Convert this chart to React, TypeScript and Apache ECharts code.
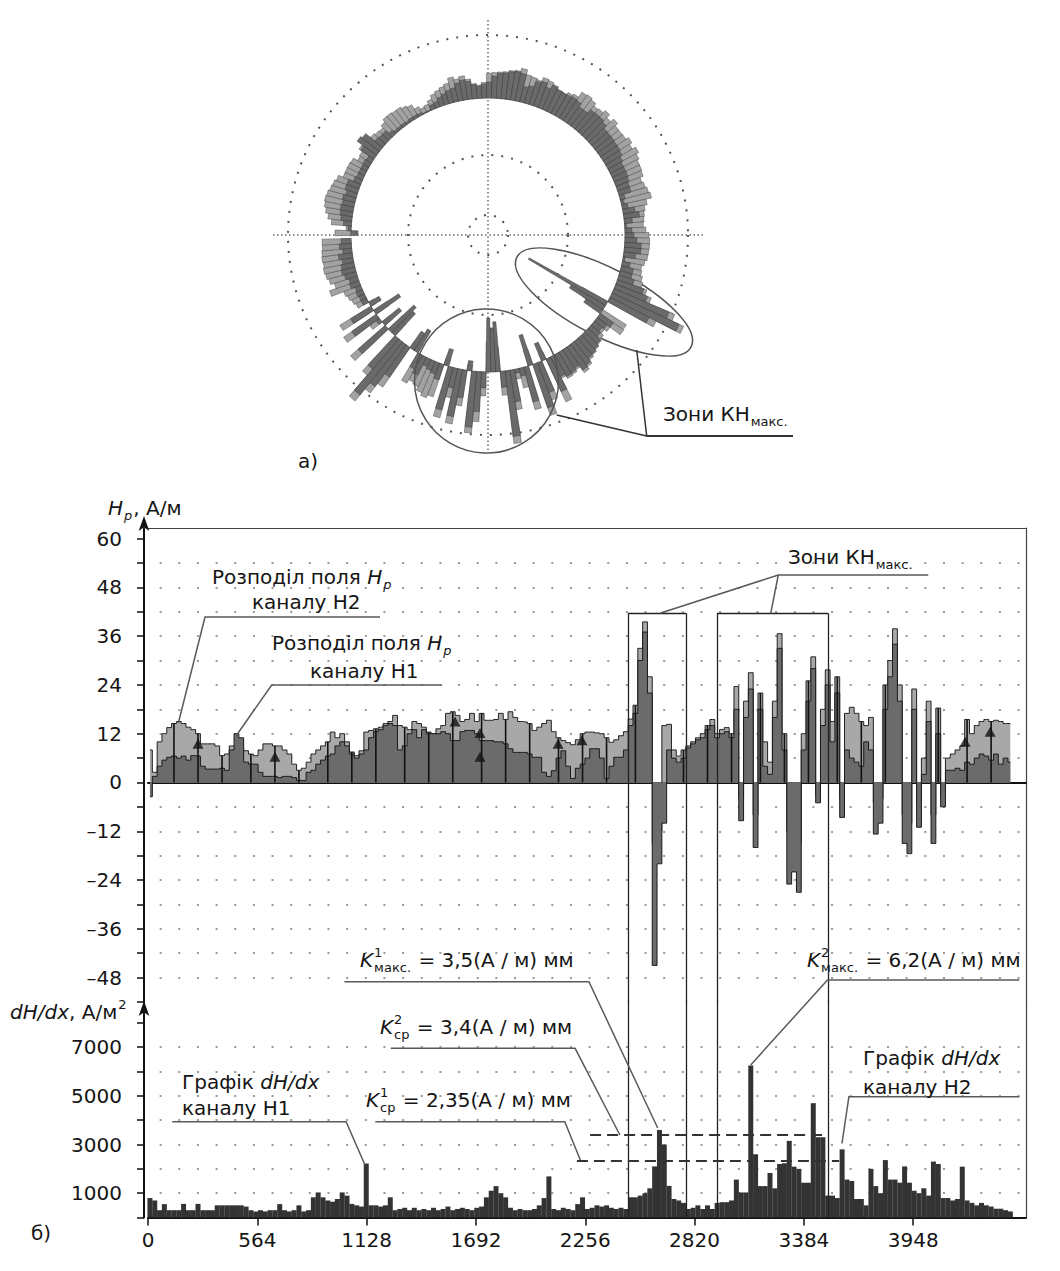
import React, { useEffect, useRef } from 'react';
import * as echarts from 'echarts';

// ---- data ----
const X_START = 10;
const STEP = 24.8;
const CIRCLE_LENGTH = 4480; // scan length mapped onto the full circle in (a)

const H2_CHANNEL = [
  8, 2.5, 10, 12, 13.5, 14.5, 15, 14.5, 13.6, 13,
  12, 9.5, 9.5, 9.5, 9, 6.6, 7, 9, 9, 8.5,
  7.8, 7, 6.6, 8, 9.5, 9.5, 9, 9, 8, 7,
  4.5, 3, 3.5, 5, 7, 8, 9, 10, 12.4, 11,
  12, 10, 7.5, 6.6, 7.8, 12.4, 12.8, 13.2, 13.6, 14.5,
  15, 16.5, 14, 13.6, 13, 15, 14.5, 13.6, 12.4, 12,
  13.2, 14, 17, 17.4, 16.5, 15, 15.5, 17, 15, 17,
  15.3, 15.3, 15.5, 17, 15.5, 17.4, 16, 15, 14.9, 14.5,
  12.8, 13.6, 14.5, 15.3, 12.5, 11, 10.3, 9.8, 9.3, 10.5,
  12, 12.4, 12.4, 12.2, 12, 11, 9.9, 10.5, 11.5, 12.5,
  15.6, 19, 33, 39.5, 26, -15, -12, 14, 14.3, 8,
  6.5, 8, 9, 10, 11, 12, 14, 15.5, 12, 13,
  13.5, 12, 23.6, -4, 20, 27, -8, 22, 10, 5,
  20, 36.6, 12, -12, -10, -15, 12, 25, 30.9, -3,
  18, 27.7, 15, 26, -4, 17, 18.5, 17, 15, 14,
  16, -5, -4, 24, 30, 37.8, 24, -8, -10, 23,
  -5, 6, 20, -8, 18.3, -3, 6, 7, 8, 9,
  15.5, 12, 14, 15, 15.5, 15, 15.3, 15, 14.5, 14.5,
];

const H1_CHANNEL = [
  -3.5, 1.5, 4, 5.5, 6.2, 6.5, 6, 6.5, 5.5, 6.6,
  6.5, 4, 3.3, 3.3, 3.3, 3.5, 3, 8, 12, 11,
  5, 4.5, 4.5, 2.5, 1.5, 1.5, 1.5, 1.2, 1.5, 1.5,
  1.2, 0.5, 0.5, 2.5, 3, 4.5, 5.5, 6.5, 7, 9,
  10, 9, 7, 6, 7, 8, 11, 12.5, 13, 14,
  14.5, 14, 8, 9, 12, 13, 11, 13, 12, 12,
  12, 12.5, 12, 10.3, 10.3, 12.5, 12.8, 12.8, 12, 10.3,
  10.3, 10.3, 10, 10, 9.5, 8.3, 7.4, 7.4, 7.4, 7,
  6.2, 6.2, 2.5, 1.5, 2.9, 6, 7.8, 4, 1, 3.5,
  4.5, 6, 8.3, 8.3, 6, 1, 4, 6.2, 6.2, 8,
  14, 17, 30, 37, 22, -45, -20, -10, 8, 6,
  5, 6, 8.5, 9.5, 10.5, 11, 13, 14, 11, 12,
  12.5, 11, 18, -9.4, 16, 23, -16, 18, 4, 2,
  16, 33, 8, -25, -22, -27, 8, 20, 28, -5,
  14, 24, 10, 22, -8.6, 8, 6, 5, 4, 10,
  8, -12.7, -10, 18, 26, 34, 20, -15, -17.5, 18,
  -11, 2, 15, -15, 12, -6, 3, 3, 3.5, 3,
  5, 4.5, 6, 7, 6.5, 5.5, 7, 4.5, 6, 5,
];

const DHDX = [
  800, 700, 300, 550, 300, 300, 300, 560, 300, 300,
  560, 300, 300, 300, 500, 500, 500, 500, 500, 500,
  450, 300, 250, 300, 250, 300, 300, 550, 300, 250,
  300, 500, 250, 300, 830, 1030, 830, 700, 650, 760,
  1030, 900, 560, 500, 450, 2220, 500, 500, 450, 500,
  830, 300, 350, 400, 300, 400, 300, 350, 300, 400,
  300, 350, 450, 300, 350, 400, 350, 300, 400, 450,
  830, 1100, 1290, 1000, 830, 400, 300, 350, 300, 300,
  350, 500, 800, 1690, 350, 300, 400, 350, 300, 550,
  830, 350, 400, 500, 450, 500, 400, 350, 400, 350,
  830, 830, 900, 1000, 1200, 2100, 3600, 3000, 1300, 760,
  700, 600, 350, 400, 500, 350, 500, 350, 600, 630,
  630, 700, 1560, 1030, 1030, 6250, 2600, 1290, 1290, 1830,
  1200, 2200, 2230, 3150, 2090, 2000, 1430, 1430, 4700, 3300,
  3300, 900, 900, 800, 2800, 1560, 1500, 760, 760, 500,
  2000, 1290, 1000, 2360, 1560, 1560, 1430, 2100, 1430, 1100,
  1000, 1200, 900, 2300, 2200, 800, 800, 700, 760, 2090,
  700, 600, 500, 600, 500, 450, 360, 360, 300, 250,
];

// sample indices carrying the vertical drop lines in the Hp plot
const DROP_IDX = [5, 10, 15, 21, 26, 31, 37, 42, 47, 53, 58, 63, 69, 74, 79, 85, 90, 95, 101, 106, 111, 116, 121, 127, 132, 137, 143, 148, 153, 158, 164, 170, 175];
// triangle markers [x, Hp]
const TRIANGLES = [[258, 9.5], [655, 6.3], [1584, 15], [1713, 12.2], [1713, 6.3], [2116, 9.5], [2239, 10.4], [4216, 10], [4345, 12.5]];

const X_LABELS = [0, 564, 1128, 1692, 2256, 2820, 3384, 3948];
const HP_TICKS = [-54, -48, -42, -36, -30, -24, -18, -12, -6, 0, 6, 12, 18, 24, 30, 36, 42, 48, 54, 60];
const HP_LABELS = [-48, -36, -24, -12, 0, 12, 24, 36, 48, 60];
const DH_TICKS = [0, 1000, 2000, 3000, 4000, 5000, 6000, 7000, 8000];
const DH_LABELS = [1000, 3000, 5000, 7000];
const ZONES = [[2477, 2776], [2936, 3509]];
const ZONE_TOP = 41.6;
const K_SR1 = { value: 2350, from: 2213, to: 3566 };
const K_SR2 = { value: 3400, from: 2281, to: 3509 };

const R0 = 68.5; // base circle of polar plot (radius units)

// ---- helpers ----
const FONT = '"DejaVu Sans", "Liberation Sans", sans-serif';
const xOf = (i: number) => X_START + STEP * i;
const angleOf = (x: number) => 180 - (360 * x) / CIRCLE_LENGTH;
const HALF = (360 * STEP) / CIRCLE_LENGTH / 2 + 0.05;

let ctx: CanvasRenderingContext2D | null = null;
function measure(t: string, size: number, italic = false) {
  if (!ctx) ctx = document.createElement('canvas').getContext('2d');
  ctx!.font = `${italic ? 'italic ' : ''}${size}px "DejaVu Sans"`;
  return ctx!.measureText(t).width;
}
function T(x: number, y: number, text: string, size: number, italic: boolean) {
  return {
    type: 'text', x, y, z: 100, silent: true,
    style: {
      text, fontSize: size, fontFamily: FONT, fontStyle: italic ? 'italic' : 'normal',
      fill: '#151515', textAlign: 'left', textVerticalAlign: 'middle', align: 'left', verticalAlign: 'middle',
    },
  };
}
type Part = { t?: string; i?: boolean; sup?: string; sub?: string; si?: boolean; size?: number };
function run(x: number, y: number, parts: Part[]) {
  const out: any[] = [];
  let cx = x;
  for (const p of parts) {
    if (p.t !== undefined) {
      const size = p.size || 20;
      out.push(T(cx, y, p.t, size, !!p.i));
      cx += measure(p.t, size, !!p.i);
    } else {
      let w = 0;
      if (p.sup) { out.push(T(cx + 1, y - 8, p.sup, 13, false)); w = Math.max(w, measure(p.sup, 13)); }
      if (p.sub) { out.push(T(cx + 1, y + 7, p.sub, 13, !!p.si)); w = Math.max(w, measure(p.sub, 13, !!p.si)); }
      cx += w + 2;
    }
  }
  return out;
}
function PL(points: number[][], width = 1.5, color = '#5a5a5a') {
  return { type: 'polyline', z: 99, silent: true, shape: { points }, style: { stroke: color, lineWidth: width, fill: null } };
}

function ringSeries(values: number[], fill: string) {
  return {
    type: 'custom', coordinateSystem: 'polar', polarIndex: 0, silent: true,
    data: values.map((h, i) => [R0 + h, angleOf(xOf(i))]),
    renderItem: (_p: any, api: any) => {
      const r = api.value(0);
      const a = api.value(1);
      const pts = [
        api.coord([R0, a + HALF]), api.coord([r, a + HALF]),
        api.coord([r, a - HALF]), api.coord([R0, a - HALF]),
      ];
      return { type: 'polygon', shape: { points: pts }, style: { fill, stroke: '#333', lineWidth: 0.4 } };
    },
  };
}

const fmtHp = (v: number) => {
  const r = Math.round(v);
  if (Math.abs(v - r) > 1e-6 || !HP_LABELS.includes(r)) return '';
  return r < 0 ? '–' + Math.abs(r) : String(r);
};

export default function App() {
  const ref = useRef<HTMLDivElement>(null);
  useEffect(() => {
    document.body.style.margin = '0';
    const chart = echarts.init(ref.current!, undefined, { renderer: 'svg' });

    const dotted = { color: '#9a9a9a', width: 2, type: [2, 16.65], dashOffset: 6.65 };

    const zoneHp: any[] = [];
    const zoneDh: any[] = [];
    ZONES.forEach(([a, b]) => {
      zoneHp.push([{ coord: [a, ZONE_TOP] }, { coord: [b, ZONE_TOP] }]);
      zoneHp.push([{ coord: [a, ZONE_TOP] }, { coord: [a, -54] }]);
      zoneHp.push([{ coord: [b, ZONE_TOP] }, { coord: [b, -54] }]);
      zoneDh.push([{ coord: [a, 8900] }, { coord: [a, 0] }]);
      zoneDh.push([{ coord: [b, 8900] }, { coord: [b, 0] }]);
    });
    const dash = { type: [11, 6], width: 2.2, color: '#333' };
    zoneDh.push([{ coord: [K_SR2.from, K_SR2.value], lineStyle: dash }, { coord: [K_SR2.to, K_SR2.value] }]);
    zoneDh.push([{ coord: [K_SR1.from, K_SR1.value], lineStyle: dash }, { coord: [K_SR1.to, K_SR1.value] }]);

    const graphic: any[] = [
      // polar decorations
      { type: 'circle', z: 98, silent: true, shape: { cx: 486.5, cy: 381, r: 72 }, style: { fill: null, stroke: '#555', lineWidth: 1.5 } },
      { type: 'group', x: 604, y: 302, rotation: -0.475, z: 98, children: [
        { type: 'ellipse', silent: true, shape: { cx: 0, cy: 0, rx: 98, ry: 34 }, style: { fill: null, stroke: '#555', lineWidth: 1.5 } },
      ] },
      PL([[636.7, 350], [646.7, 436], [556.7, 415]], 1.5, '#333'),
      PL([[646.7, 436], [793, 436]], 2, '#333'),
      ...run(663, 414, [{ t: 'Зони КН' }, { sub: 'макс.' }]),
      ...run(298, 461, [{ t: 'а)' }]),

      // axis titles
      ...run(108, 508, [{ t: 'H', i: true }, { sub: 'p', si: true }, { t: ', А/м' }]),
      ...run(10, 1012, [{ t: 'dH/dx', i: true }, { t: ', А/м' }, { sup: '2' }]),
      ...run(31, 1233, [{ t: 'б)' }]),

      // Hp annotations
      PL([[178.3, 723.3], [205, 617], [380, 617]]),
      ...run(212, 577, [{ t: 'Розподіл поля ' }, { t: 'H', i: true }, { sub: 'p', si: true }]),
      ...run(252, 602, [{ t: 'каналу H2' }]),
      PL([[236.7, 735], [271.7, 685], [441.7, 685]]),
      ...run(272, 643, [{ t: 'Розподіл поля ' }, { t: 'H', i: true }, { sub: 'p', si: true }]),
      ...run(310, 671, [{ t: 'каналу H1' }]),
      PL([[660, 613.3], [778.3, 575], [928.3, 575]]),
      PL([[770.7, 613.3], [778.3, 575]]),
      ...run(788, 557, [{ t: 'Зони КН' }, { sub: 'макс.' }]),

      // dH/dx annotations
      PL([[344.4, 981.7], [588.9, 981.7], [657.7, 1128]]),
      ...run(360, 960, [{ t: 'K', i: true }, { sup: '1', sub: 'макс.' }, { t: ' = 3,5(А / м) мм' }]),
      PL([[390.8, 1048.3], [575.1, 1048.3], [619.9, 1135]]),
      ...run(380, 1027, [{ t: 'K', i: true }, { sup: '2', sub: 'ср' }, { t: ' = 3,4(А / м) мм' }]),
      PL([[375.3, 1121.7], [564.8, 1121.7], [580.3, 1160]]),
      ...run(366, 1100, [{ t: 'K', i: true }, { sup: '1', sub: 'ср' }, { t: ' = 2,35(А / м) мм' }]),
      PL([[1019.3, 980], [827.5, 980], [750.7, 1065]]),
      ...run(807, 960, [{ t: 'K', i: true }, { sup: '2', sub: 'макс.' }, { t: ' = 6,2(А / м) мм' }]),
      PL([[172.2, 1121.7], [346.1, 1121.7], [365, 1165]]),
      ...run(182, 1082, [{ t: 'Графік ' }, { t: 'dH/dx', i: true }]),
      ...run(182, 1108, [{ t: 'каналу H1' }]),
      PL([[1019.3, 1096.7], [848.9, 1096.7], [842, 1143.3]]),
      ...run(863, 1058, [{ t: 'Графік ' }, { t: 'dH/dx', i: true }]),
      ...run(863, 1087, [{ t: 'каналу H2' }]),
    ];

    const axisLabelStyle = { fontSize: 20, fontFamily: FONT, color: '#151515' };

    const option: any = {
      animation: false,
      backgroundColor: '#ffffff',
      polar: { center: [488, 235], radius: 215 },
      angleAxis: {
        type: 'value', min: 0, max: 360, startAngle: 0, clockwise: false, interval: 90,
        axisLine: { show: false }, axisTick: { show: false }, axisLabel: { show: false },
        splitLine: { show: true, lineStyle: { color: '#6a6a6a', width: 1.5, type: [1.5, 2.5] } },
      },
      radiusAxis: {
        type: 'value', min: 0, max: 107.5, interval: 10,
        axisLine: { show: false }, axisTick: { show: false }, axisLabel: { show: false },
        splitLine: {
          show: true,
          lineStyle: {
            color: ['rgba(0,0,0,0)', '#555', 'rgba(0,0,0,0)', 'rgba(0,0,0,0)', '#555', 'rgba(0,0,0,0)', 'rgba(0,0,0,0)', 'rgba(0,0,0,0)', 'rgba(0,0,0,0)', 'rgba(0,0,0,0)', '#555', 'rgba(0,0,0,0)'],
            width: 2, type: [2, 8],
          },
        },
      },
      grid: [
        { left: 148, right: 34, top: 528, height: 474 },
        { left: 148, right: 34, top: 1001, height: 216.5 },
      ],
      xAxis: [
        { gridIndex: 0, type: 'value', min: 0, max: 4530, interval: 564,
          axisLine: { onZero: true, lineStyle: { color: '#111', width: 2 } },
          axisTick: { show: false }, axisLabel: { show: false }, splitLine: { show: false } },
        { gridIndex: 0, type: 'value', position: 'top', min: 0, max: 4530, interval: 564,
          axisLine: { onZero: false, lineStyle: { color: '#444', width: 1.2 } },
          axisTick: { show: false }, axisLabel: { show: false }, splitLine: { show: false } },
        { gridIndex: 1, type: 'value', position: 'bottom', min: 0, max: 4530, interval: 564,
          axisLine: { onZero: false, lineStyle: { color: '#111', width: 2 } },
          axisTick: { show: true, length: 8, customValues: X_LABELS, lineStyle: { color: '#111', width: 1.5 } },
          axisLabel: { ...axisLabelStyle, margin: 12, customValues: X_LABELS,
            formatter: (v: number) => String(Math.round(v)) },
          splitLine: { show: false } },
      ],
      yAxis: [
        { gridIndex: 0, type: 'value', min: -54, max: 62.6, interval: 6, offset: 4,
          axisLine: { show: true, onZero: false, lineStyle: { color: '#111', width: 2 }, symbol: ['none', 'arrow'], symbolSize: [8, 15], symbolOffset: [0, 12] },
          axisTick: { show: true, length: 7, customValues: HP_TICKS, lineStyle: { color: '#111', width: 1.5 } },
          axisLabel: { ...axisLabelStyle, margin: 22, customValues: HP_LABELS, formatter: fmtHp },
          splitLine: { show: true, showMinLine: false, showMaxLine: false, lineStyle: dotted } },
        { gridIndex: 0, type: 'value', position: 'right', min: -54, max: 62.6, interval: 6,
          axisLine: { show: true, onZero: false, lineStyle: { color: '#444', width: 1.2 } },
          axisTick: { show: false }, axisLabel: { show: false }, splitLine: { show: false } },
        { gridIndex: 1, type: 'value', min: 0, max: 8900, interval: 1000, offset: 4,
          axisLine: { show: true, onZero: false, lineStyle: { color: '#111', width: 2 }, symbol: ['none', 'arrow'], symbolSize: [8, 15], symbolOffset: [0, 0] },
          axisTick: { show: true, length: 7, customValues: DH_TICKS, lineStyle: { color: '#111', width: 1.5 } },
          axisLabel: { ...axisLabelStyle, margin: 22, customValues: DH_LABELS,
            formatter: (v: number) => String(Math.round(v)) },
          splitLine: { show: true, showMinLine: false, showMaxLine: false, lineStyle: dotted } },
        { gridIndex: 1, type: 'value', position: 'right', min: 0, max: 8900, interval: 1000,
          axisLine: { show: true, onZero: false, lineStyle: { color: '#444', width: 1.2 } },
          axisTick: { show: false }, axisLabel: { show: false }, splitLine: { show: false } },
      ],
      series: [
        ringSeries(H2_CHANNEL, '#a2a2a2'),
        ringSeries(H1_CHANNEL, '#6a6a6a'),
        {
          name: 'H2', type: 'line', xAxisIndex: 0, yAxisIndex: 0, step: 'middle', symbol: 'none', z: 2,
          data: H2_CHANNEL.map((v, i) => [xOf(i), v]),
          lineStyle: { color: '#222', width: 1 },
          areaStyle: { color: '#a8a8a8', opacity: 1 },
        },
        {
          name: 'H1', type: 'line', xAxisIndex: 0, yAxisIndex: 0, step: 'middle', symbol: 'none', z: 3,
          data: H1_CHANNEL.map((v, i) => [xOf(i), v]),
          lineStyle: { color: '#1a1a1a', width: 1 },
          areaStyle: { color: '#6b6b6b', opacity: 1 },
          markLine: { silent: true, symbol: ['none', 'none'], label: { show: false },
            lineStyle: { color: '#222', width: 1.3, type: 'solid' }, data: zoneHp },
        },
        {
          name: 'drop', type: 'bar', xAxisIndex: 0, yAxisIndex: 0, barWidth: 1.6, z: 4, silent: true,
          itemStyle: { color: '#111' },
          data: DROP_IDX.map((i) => [xOf(i), Math.max(H1_CHANNEL[i], H2_CHANNEL[i], 0)]),
        },
        {
          name: 'markers', type: 'scatter', xAxisIndex: 0, yAxisIndex: 0, symbol: 'triangle', symbolSize: [11, 10], z: 5, silent: true,
          itemStyle: { color: '#111' },
          data: TRIANGLES,
        },
        {
          name: 'dH/dx', type: 'bar', xAxisIndex: 2, yAxisIndex: 2, barWidth: 5, z: 3,
          itemStyle: { color: '#333' },
          data: DHDX.map((v, i) => [xOf(i), v]),
          markLine: { silent: true, symbol: ['none', 'none'], label: { show: false },
            lineStyle: { color: '#222', width: 1.3, type: 'solid' }, data: zoneDh },
        },
      ],
      graphic,
    };
    chart.setOption(option);
    return () => chart.dispose();
  }, []);
  return <div ref={ref} style={{ width: 1060, height: 1271 }} />;
}
